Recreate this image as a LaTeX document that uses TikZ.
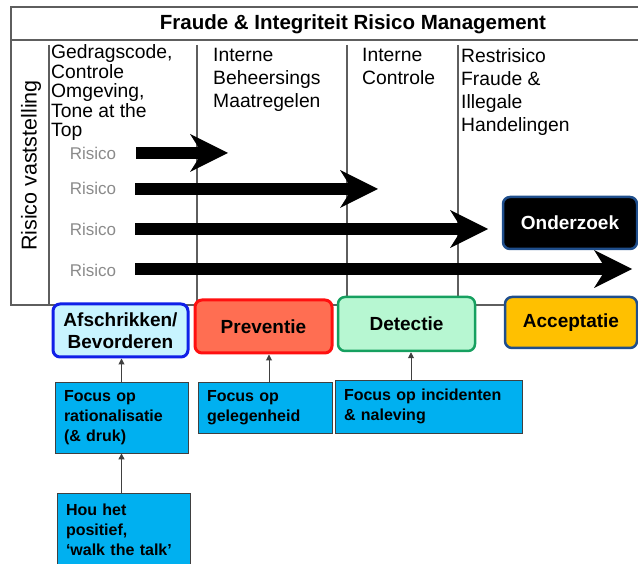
\documentclass[tikz,border=0pt]{standalone}
\usepackage{fontspec}
\setmainfont{Liberation Sans}
\usetikzlibrary{arrows.meta}
\hyphenpenalty=10000
\exhyphenpenalty=10000
\definecolor{framegray}{HTML}{5E5E5E}
\definecolor{risgray}{HTML}{8A8A8A}
\definecolor{afsfill}{HTML}{C8F4FF}
\definecolor{afsdraw}{HTML}{1020E8}
\definecolor{prevfill}{HTML}{FF6E52}
\definecolor{prevdraw}{HTML}{FF1010}
\definecolor{detfill}{HTML}{B7F7D2}
\definecolor{detdraw}{HTML}{16A060}
\definecolor{accfill}{HTML}{FFC000}
\definecolor{navyedge}{HTML}{1F4E8C}
\definecolor{focfill}{HTML}{00B0F0}
\definecolor{focdraw}{HTML}{404040}
\begin{document}
\begin{tikzpicture}[x=1pt,y=-1pt,
  frameline/.style={draw=framegray,line width=1.2pt},
  header/.style={anchor=north west,inner sep=0pt,align=left,
    font=\fontsize{19.3}{23}\selectfont},
  risico/.style={text=risgray,inner sep=0pt,font=\fontsize{17}{20}\selectfont},
  bigarrow/.style={line width=12pt,
    -{Stealth[length=38pt,width=38pt,inset=12pt,line width=0pt]}},
  phase/.style={rounded corners=7pt,line width=3pt,align=center,
    font=\bfseries\fontsize{19}{22}\selectfont,inner sep=0pt},
  focus/.style={fill=focfill,draw=focdraw,line width=0.8pt,align=left,
    inner xsep=9pt,inner ysep=0pt,
    font=\bfseries\fontsize{16}{20}\selectfont},
  conn/.style={draw=focdraw,line width=1pt,-{Triangle[length=6pt,width=6pt]}}
]
\useasboundingbox (0,0) rectangle (638,564);

% frame
\draw[frameline] (640,7) -- (11,7) -- (11,305) -- (640,305);
\draw[frameline] (11,40) -- (640,40);
\draw[frameline] (49,45) -- (49,305);
\draw[frameline] (197,45) -- (197,305);
\draw[frameline] (347,45) -- (347,305);
\draw[frameline] (458,45) -- (458,305);

% title
\node[font=\bfseries\fontsize{20.5}{24}\selectfont,inner sep=0pt] (title) at (353,24)
  {Fraude \& Integriteit Risico Management};

% vertical label
\node[rotate=90,font=\fontsize{21.5}{24}\selectfont,inner sep=0pt] (rv) at (31,165.5)
  {Risico vaststelling};

% column headers
\node[header,font=\fontsize{19.3}{19.5}\selectfont] (h1) at (51,44.5)
  {Gedragscode,\\Controle\\Omgeving,\\Tone at the\\Top};
\node[header] (h2) at (213,48.5) {Interne\\Beheersings\\Maatregelen};
\node[header] (h3) at (362,48.5) {Interne\\Controle};
\node[header] (h4) at (461,48.5) {Restrisico\\Fraude \&\\Illegale\\Handelingen};

% risico labels
\node[risico] (r1) at (93,153) {Risico};
\node[risico] (r2) at (93,188) {Risico};
\node[risico] (r3) at (93,229) {Risico};
\node[risico] (r4) at (93,270) {Risico};

% big arrows
\coordinate (a1s) at (136,153); \coordinate (a1e) at (228,153);
\coordinate (a2s) at (135,189); \coordinate (a2e) at (378,189);
\coordinate (a3s) at (135,229); \coordinate (a3e) at (488,229);
\coordinate (a4s) at (135,269); \coordinate (a4e) at (632,269);
\draw[bigarrow] (a1s) -- (a1e);
\draw[bigarrow] (a2s) -- (a2e);
\draw[bigarrow] (a3s) -- (a3e);
\draw[bigarrow] (a4s) -- (a4e);

% Onderzoek
\node[phase,fill=black,draw=navyedge,line width=2.5pt,text=white,
  minimum width=134pt,minimum height=52pt] (ond) at (570,223) {Onderzoek};

% phase boxes
\node[phase,fill=afsfill,draw=afsdraw,minimum width=135pt,minimum height=53pt]
  (afs) at (120.5,330.5) {Afschrikken/\\Bevorderen};
\node[phase,fill=prevfill,draw=prevdraw,minimum width=137pt,minimum height=53pt]
  (prev) at (263.5,326.5) {Preventie};
\node[phase,fill=detfill,draw=detdraw,line width=2.5pt,minimum width=137pt,minimum height=54pt]
  (det) at (406.5,324) {Detectie};
\node[phase,fill=accfill,draw=navyedge,line width=2.5pt,minimum width=132pt,minimum height=51pt]
  (acc) at (571,322.5) {Acceptatie};

% focus boxes
\node[focus,text width=115pt,minimum height=71pt] (foc1) at (121.5,417.5)
  {Focus op\\rationalisatie\\(\& druk)};
\node[focus,text width=116pt,minimum height=51pt] (foc2) at (265,407.5)
  {Focus op\\gelegenheid};
\node[focus,text width=169pt,minimum height=53pt] (foc3) at (428.5,406.5)
  {Focus op incidenten\\\& naleving};
\node[focus,text width=115pt,minimum height=73pt] (hou) at (123.5,529.5)
  {Hou het\\positief,\\‘walk the talk’};

% connectors
\coordinate (c2) at (269,0);
\coordinate (c3) at (411,0);
\draw[conn] (foc1.north) -- (foc1.north |- afs.south);
\draw[conn] (foc2.north -| c2) -- (prev.south -| c2);
\draw[conn] (foc3.north -| c3) -- (det.south -| c3);
\draw[conn] (foc1.south |- hou.north) -- (foc1.south);
\end{tikzpicture}
\end{document}
